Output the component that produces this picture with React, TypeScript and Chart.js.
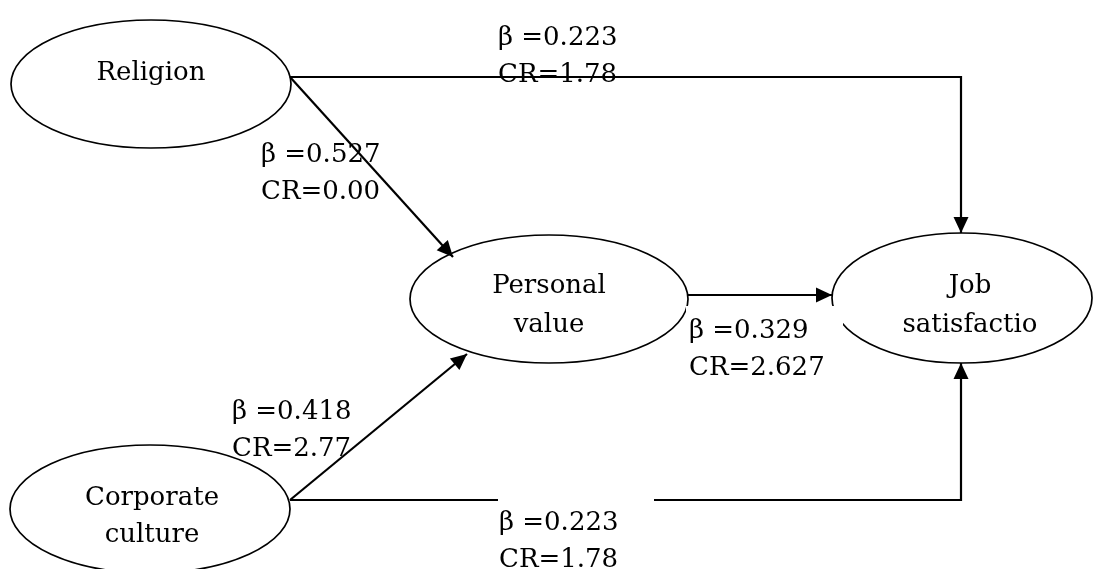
import React, { useEffect, useRef } from "react";
import { Chart, registerables } from "chart.js";

Chart.register(...registerables);

// ---- data ----
const nodeNames: string[][] = [["Religion"], ["Personal", "value"], ["Job", "satisfactio"], ["Corporate", "culture"]];
const pathFrom: number[] = [0, 0, 1, 3, 3];
const pathTo: number[] = [2, 1, 2, 1, 2];
const betaValues: string[] = ["0.223", "0.527", "0.329", "0.418", "0.223"];
const crValues: string[] = ["1.78", "0.00", "2.627", "2.77", "1.78"];

// ---- layout (diagram coordinates) ----
const nodeShapes = [
  { cx: 151, cy: 84, rx: 140, ry: 64 },
  { cx: 549, cy: 299, rx: 139, ry: 64 },
  { cx: 962, cy: 298, rx: 130, ry: 65 },
  { cx: 150, cy: 509, rx: 140, ry: 64 },
];
const nodeTextPos = [
  { x: 151, y: [80] },
  { x: 549, y: [293, 332] },
  { x: 970, y: [293, 332] },
  { x: 152, y: [505, 542] },
];
const pathRoutes: number[][][] = [
  [[290, 77], [961, 77], [961, 233]],
  [[290, 77], [453, 257]],
  [[688, 295], [832, 295]],
  [[290, 500], [467, 354]],
  [[290, 500], [961, 500], [961, 363]],
];
const labelPos = [
  { x: 498, y: 45 },
  { x: 261, y: 162 },
  { x: 689, y: 338 },
  { x: 232, y: 419 },
  { x: 499, y: 530 },
];
const labelBoxes = [null, null, { x: 686, y: 306, w: 157, h: 75 }, null, { x: 498, y: 497, w: 156, h: 72 }];

const FONT = '26px "DejaVu Serif"';
const LINE_GAP = 37;

const diagramPlugin = {
  id: "diagram",
  afterDatasetsDraw(chart: any) {
    const ctx = chart.ctx as CanvasRenderingContext2D;
    const xs = chart.scales.x;
    const ys = chart.scales.y;
    const px = (v: number) => xs.getPixelForValue(v);
    const py = (v: number) => ys.getPixelForValue(v);
    ctx.save();
    // ellipses
    ctx.strokeStyle = "#000";
    ctx.lineWidth = 1.7;
    nodeShapes.forEach((n) => {
      const cx = px(n.cx), cy = py(n.cy);
      const rx = Math.abs(px(n.cx + n.rx) - cx);
      const ry = Math.abs(py(n.cy + n.ry) - cy);
      ctx.beginPath();
      ctx.ellipse(cx, cy, rx, ry, 0, 0, Math.PI * 2);
      ctx.stroke();
    });
    // arrowheads
    ctx.fillStyle = "#000";
    pathRoutes.forEach((r) => {
      const a = r[r.length - 2], b = r[r.length - 1];
      const x1 = px(a[0]), y1 = py(a[1]), x2 = px(b[0]), y2 = py(b[1]);
      const ang = Math.atan2(y2 - y1, x2 - x1);
      const len = 16, half = 7.5;
      const bx = x2 - len * Math.cos(ang), by = y2 - len * Math.sin(ang);
      ctx.beginPath();
      ctx.moveTo(x2, y2);
      ctx.lineTo(bx + half * Math.sin(ang), by - half * Math.cos(ang));
      ctx.lineTo(bx - half * Math.sin(ang), by + half * Math.cos(ang));
      ctx.closePath();
      ctx.fill();
    });
    // label boxes
    ctx.fillStyle = "#fff";
    labelBoxes.forEach((b) => {
      if (!b) return;
      const x0 = px(b.x), y0 = py(b.y);
      ctx.fillRect(x0, y0, px(b.x + b.w) - x0, py(b.y + b.h) - y0);
    });
    // texts
    ctx.fillStyle = "#000";
    ctx.font = FONT;
    ctx.textBaseline = "alphabetic";
    ctx.textAlign = "center";
    nodeNames.forEach((lines, i) => {
      const p = nodeTextPos[i];
      lines.forEach((t, j) => ctx.fillText(t, px(p.x), py(p.y[j])));
    });
    ctx.textAlign = "left";
    betaValues.forEach((b, i) => {
      const p = labelPos[i];
      ctx.fillText("β =" + b, px(p.x), py(p.y));
      ctx.fillText("CR=" + crValues[i], px(p.x), py(p.y + LINE_GAP));
    });
    ctx.restore();
  },
};

export default function App() {
  const ref = useRef<HTMLCanvasElement | null>(null);
  useEffect(() => {
    if (!ref.current) return;
    const datasets = pathRoutes.map((r, i) => ({
      label: nodeNames[pathFrom[i]].join(" ") + " → " + nodeNames[pathTo[i]].join(" "),
      data: r.map((p) => ({ x: p[0], y: p[1] })),
      showLine: true,
      borderColor: "#000",
      borderWidth: 2.2,
      pointRadius: 0,
      fill: false,
      tension: 0,
      borderJoinStyle: "miter" as const,
    }));
    const chart = new Chart(ref.current, {
      type: "scatter",
      data: { datasets },
      options: {
        animation: false,
        responsive: false,
        maintainAspectRatio: false,
        devicePixelRatio: 1,
        layout: { padding: 0 },
        scales: {
          x: { type: "linear", min: 0, max: 1098, display: false },
          y: { type: "linear", min: 0, max: 569, reverse: true, display: false },
        },
        plugins: { legend: { display: false }, tooltip: { enabled: false } },
        events: [],
      },
      plugins: [diagramPlugin],
    });
    return () => chart.destroy();
  }, []);
  return (
    <div style={{ position: "fixed", left: 0, top: 0, width: 1098, height: 569, background: "#fff" }}>
      <canvas ref={ref} width={1098} height={569} style={{ display: "block" }} />
    </div>
  );
}
